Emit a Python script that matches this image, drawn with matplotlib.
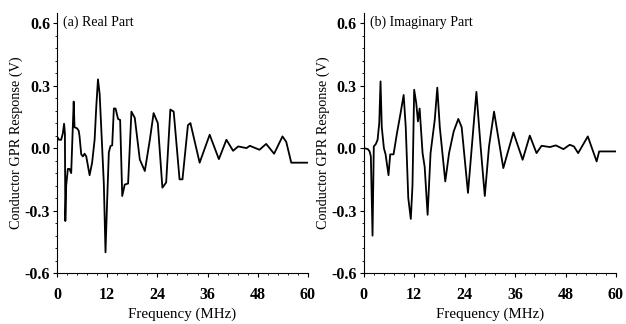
import matplotlib.pyplot as plt
from matplotlib.ticker import MultipleLocator

plt.rcParams['font.family'] = ['Liberation Serif', 'DejaVu Serif']

# real part of the conductor response
freq_re = [0.0, 0.5, 1.0, 1.4, 1.7, 1.9, 2.0, 2.2, 2.6, 3.0, 3.4, 4.0, 4.2,
           4.8, 5.2, 5.4, 5.8, 6.2, 6.6, 7.0, 7.8, 8.4, 9.0, 9.4, 9.8, 10.2,
           10.6, 11.2, 11.6, 12.0, 12.4, 12.8, 13.2, 13.6, 14.0, 14.6, 15.1,
           15.6, 16.2, 17.0, 17.8, 18.6, 19.8, 21.0, 22.2, 23.1, 24.1, 25.2,
           26.1, 27.1, 27.9, 29.3, 30.0, 31.3, 31.9, 34.1, 36.5, 38.7, 40.5,
           42.1, 43.3, 45.3, 46.1, 48.4, 50.0, 51.9, 53.9, 54.8, 56.0, 60.0]
real = [0.056, 0.04, 0.04, 0.07, 0.117, 0.07, -0.35, -0.18, -0.1, -0.1, -0.12,
        0.223, 0.10, 0.095, 0.083, 0.056, -0.03, -0.04, -0.027, -0.04, -0.13,
        -0.07, 0.04, 0.20, 0.33, 0.26, 0.09, -0.17, -0.50, -0.25, -0.02,
        0.01, 0.013, 0.19, 0.19, 0.14, 0.135, -0.23, -0.175, -0.17, 0.175,
        0.145, -0.055, -0.11, 0.04, 0.168, 0.12, -0.19, -0.165, 0.185, 0.175,
        -0.15, -0.15, 0.11, 0.12, -0.07, 0.064, -0.053, 0.04, -0.013, 0.008,
        0.0, 0.011, -0.008, 0.02, -0.027, 0.056, 0.03, -0.07, -0.07]

# imaginary part of the conductor response
freq_im = [0.0, 1.0, 1.4, 1.7, 2.1, 2.4, 2.9, 3.3, 3.7, 4.0, 4.3, 4.8, 5.2,
           5.9, 6.3, 7.1, 7.9, 8.7, 9.5, 10.0, 10.6, 11.2, 11.6, 12.0, 12.5,
           12.9, 13.3, 14.0, 14.5, 15.2, 15.9, 16.9, 17.5, 18.1, 19.4, 20.3,
           21.4, 22.5, 23.3, 24.8, 26.8, 27.8, 28.8, 29.8, 31.0, 33.2, 35.6,
           37.8, 39.5, 41.1, 42.3, 44.3, 45.7, 47.5, 49.0, 50.0, 51.0, 53.3,
           55.4, 56.0, 60.0]
imag = [0.0, -0.005, -0.016, -0.04, -0.42, 0.008, 0.02, 0.04, 0.12, 0.32, 0.10,
        0.0, -0.03, -0.13, -0.03, -0.03, 0.07, 0.16, 0.255, 0.10, -0.24, -0.34,
        -0.18, 0.28, 0.215, 0.128, 0.19, -0.024, -0.09, -0.32, -0.024, 0.136,
        0.29, 0.10, -0.16, -0.024, 0.08, 0.14, 0.10, -0.215, 0.27, 0.008,
        -0.23, 0.008, 0.175, -0.096, 0.075, -0.056, 0.06, -0.024, 0.011,
        0.005, 0.013, -0.005, 0.016, 0.008, -0.024, 0.056, -0.064, -0.016,
        -0.016]

panels = [('(a) Real Part', freq_re, real, [0.091, 0.157, 0.401, 0.804]),
          ('(b) Imaginary Part', freq_im, imag, [0.581, 0.157, 0.403, 0.804])]

fig = plt.figure(figsize=(6.26, 3.24), dpi=100)

for title, f, v, rect in panels:
    ax = fig.add_axes(rect)
    ax.plot(f, v, color='black', lw=1.3, solid_joinstyle='round')
    ax.set_xlim(0, 60)
    ax.set_ylim(-0.6, 0.65)
    ax.set_xticks([0, 12, 24, 36, 48, 60])
    ax.set_yticks([-0.6, -0.3, 0.0, 0.3, 0.6])
    ax.set_yticklabels(['-0.6', '-0.3', '0.0', '0.3', '0.6'])
    ax.xaxis.set_minor_locator(MultipleLocator(2.4))
    ax.yaxis.set_minor_locator(MultipleLocator(0.06))
    ax.tick_params(which='major', length=3, width=0.8, pad=2, labelsize=11.5)
    ax.tick_params(axis='x', which='major', pad=7)
    ax.tick_params(which='minor', length=1.5, width=0.6)
    for lab in ax.get_xticklabels() + ax.get_yticklabels():
        lab.set_fontweight('bold')
    ax.spines['top'].set_visible(False)
    ax.spines['right'].set_visible(False)
    ax.set_xlabel('Frequency (MHz)', fontsize=10.8, labelpad=3)
    ax.set_ylabel('Conductor GPR Response (V)', fontsize=10.3, labelpad=1)
    ax.text(0.025, 0.99, title, transform=ax.transAxes, fontsize=10,
            va='top', ha='left')

fig.savefig('out.png', dpi=100)
